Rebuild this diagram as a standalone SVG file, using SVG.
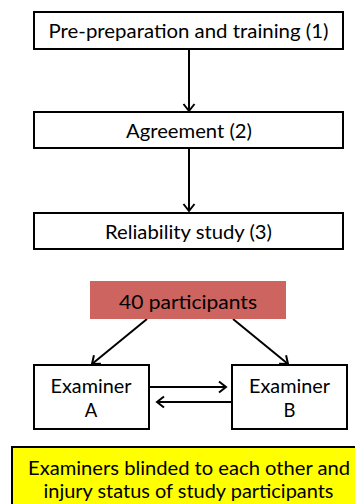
<svg xmlns="http://www.w3.org/2000/svg" width="355" height="504" viewBox="0 0 355 504">
<style>
.box{fill:#fff;stroke:#000;stroke-width:2}
.t{font-family:Lato,"Liberation Sans",Arial,sans-serif;font-size:18.5px;fill:#000;text-anchor:middle}
.c{stroke:#000;stroke-width:2;fill:none;marker-end:url(#ah)}
</style>
<defs>
<marker id="ah" markerUnits="userSpaceOnUse" markerWidth="14" markerHeight="14" viewBox="-10 -7 12 14" refX="0" refY="0" orient="auto">
<polyline points="-7,-5.5 0,0 -7,5.5" fill="none" stroke="#000" stroke-width="2"/>
</marker>
</defs>
<g id="connectors">
<line class="c" x1="189" y1="49" x2="189" y2="111"/>
<line class="c" x1="189" y1="148" x2="189" y2="211"/>
<line class="c" x1="147" y1="319" x2="92" y2="364"/>
<line class="c" x1="233" y1="319" x2="288" y2="364"/>
<line class="c" x1="149" y1="387" x2="226" y2="387"/>
<line class="c" x1="232" y1="402" x2="157" y2="402"/>
</g>
<g id="n1">
<rect class="box" x="34" y="12" width="309" height="37"/>
<text class="t" x="188.5" y="38" textLength="280" lengthAdjust="spacingAndGlyphs">Pre-preparation and training (1)</text>
</g>
<g id="n2">
<rect class="box" x="34" y="112" width="309" height="36"/>
<text class="t" x="189" y="138" textLength="126" lengthAdjust="spacingAndGlyphs">Agreement (2)</text>
</g>
<g id="n3">
<rect class="box" x="34" y="213" width="309" height="36"/>
<text class="t" x="188.5" y="239" textLength="167" lengthAdjust="spacingAndGlyphs">Reliability study (3)</text>
</g>
<g id="n4">
<rect x="90" y="281" width="196" height="38" fill="#CD645F"/>
<text class="t" x="188" y="309" textLength="138" lengthAdjust="spacingAndGlyphs">40 participants</text>
</g>
<g id="n5">
<rect class="box" x="34" y="365" width="115" height="64"/>
<text class="t" x="91" y="393" textLength="81" lengthAdjust="spacingAndGlyphs">Examiner</text>
<text class="t" x="91" y="417">A</text>
</g>
<g id="n6">
<rect class="box" x="232" y="365" width="115" height="64"/>
<text class="t" x="289.5" y="393" textLength="81" lengthAdjust="spacingAndGlyphs">Examiner</text>
<text class="t" x="289.5" y="417">B</text>
</g>
<g id="n7">
<rect x="12" y="447" width="350" height="70" fill="#FFFF00" stroke="#000" stroke-width="2"/>
<text class="t" x="189" y="475" textLength="322" lengthAdjust="spacingAndGlyphs">Examiners blinded to each other and</text>
<text class="t" x="188.5" y="498" textLength="290" lengthAdjust="spacingAndGlyphs">injury status of study participants</text>
</g>
</svg>
